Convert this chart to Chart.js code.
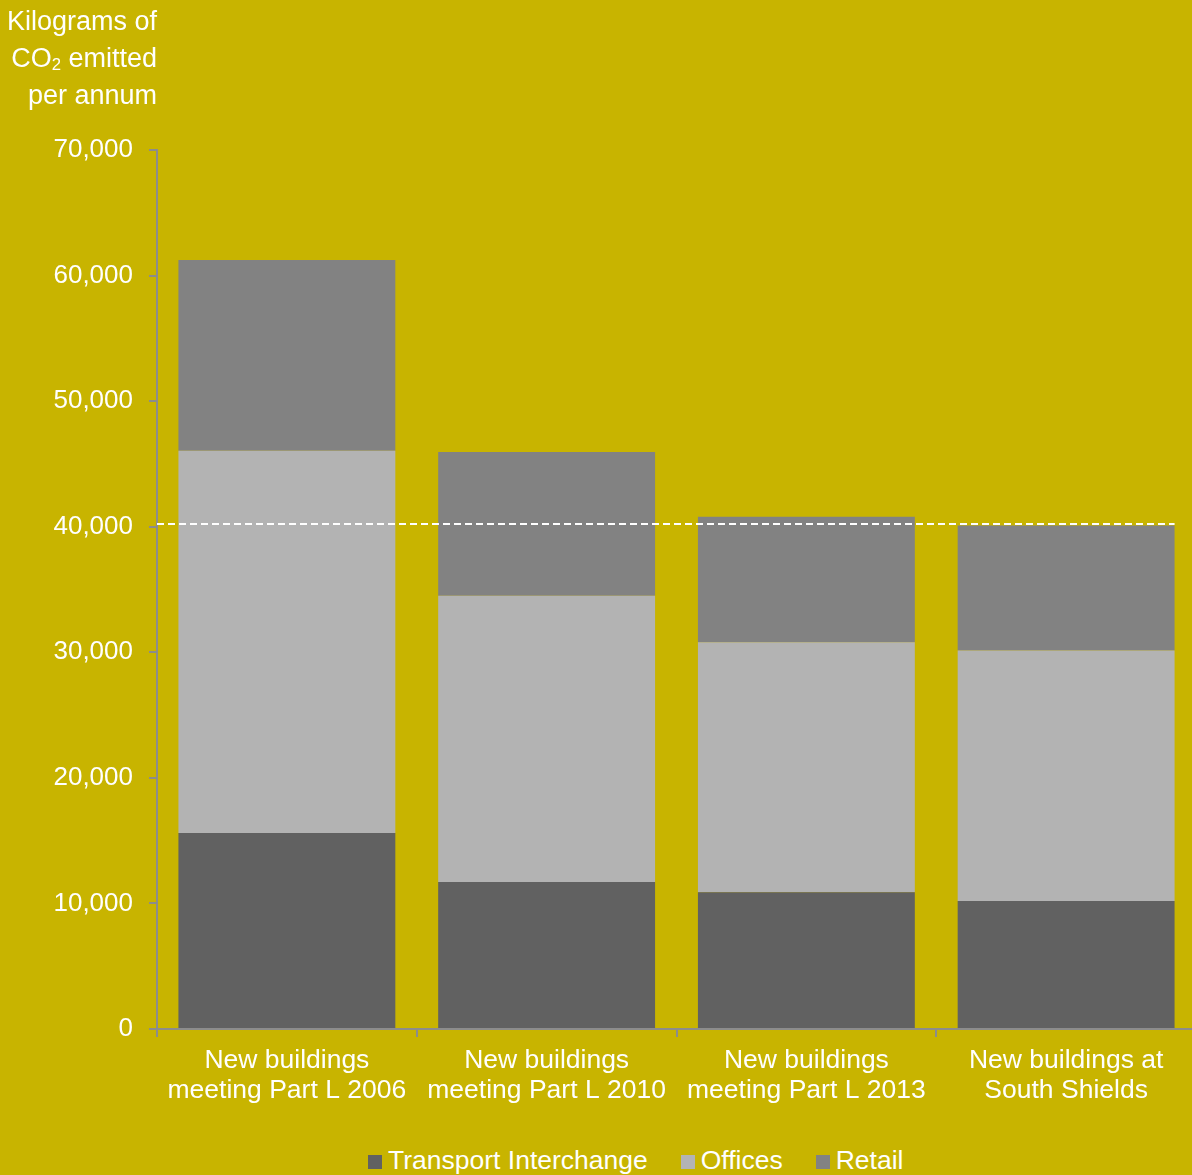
<!DOCTYPE html>
<html>
<head>
<meta charset="utf-8">
<script src="https://cdn.jsdelivr.net/npm/chart.js@4"></script>
<style>
  html, body { margin: 0; padding: 0; background: #c8b400; overflow: hidden; }
  #wrap { position: relative; width: 1192px; height: 1175px; overflow: hidden; background: #c8b400;
          font-family: "Liberation Sans", Arial, sans-serif; color: #ffffff; }
  #cv { position: absolute; left: 0; top: 0; }
  #ytitle { position: absolute; left: 0; top: 3px; width: 157px; text-align: right;
            font-size: 27px; line-height: 37px; }
  #ytitle sub { font-size: 0.62em; vertical-align: -0.2em; line-height: 0; }
  #legend { position: absolute; left: 368px; top: 1145px; height: 30px; display: flex;
            align-items: center; font-size: 26.5px; white-space: nowrap; }
  .item { display: flex; align-items: center; }
  .item + .item { margin-left: 33px; }
  .box { width: 14px; height: 14px; margin-right: 6px; margin-top: 3px; }
</style>
</head>
<body>
<div id="wrap">
  <canvas id="cv" width="1196" height="1130"></canvas>
  <div id="ytitle">Kilograms of<br>CO<sub>2</sub> emitted<br>per annum</div>
  <div id="legend"></div>
</div>
<script>
// ---- data ----
const categories = [
  ["New buildings", "meeting Part L 2006"],
  ["New buildings", "meeting Part L 2010"],
  ["New buildings", "meeting Part L 2013"],
  ["New buildings at", "South Shields"]
];
const seriesNames = ["Transport Interchange", "Offices", "Retail"];
const transportInterchange = [15600, 11700, 10900, 10200];
const offices = [30450, 22800, 19900, 19950];
const retail = [15200, 11450, 10000, 9950];
const referenceLine = 40200;
const yTicks = [0, 10000, 20000, 30000, 40000, 50000, 60000, 70000];

// ---- styling ----
const colors = ["#616161", "#b3b3b3", "#828282"];
const axisColor = "#8c8c8c";
const FONT = '"Liberation Sans", Arial, sans-serif';

const refLinePlugin = {
  id: 'refLine',
  afterDatasetsDraw(chart) {
    const y = Math.round(chart.scales.y.getPixelForValue(referenceLine));
    const meta = chart.getDatasetMeta(2);
    const last = meta.data[meta.data.length - 1];
    const xEnd = last.x + last.width / 2;
    const ctx = chart.ctx;
    ctx.save();
    ctx.strokeStyle = '#ffffff';
    ctx.lineWidth = 2;
    ctx.setLineDash([7, 4]);
    ctx.beginPath();
    ctx.moveTo(chart.chartArea.left, y);
    ctx.lineTo(xEnd, y);
    ctx.stroke();
    ctx.restore();
  }
};

const dataSeries = [transportInterchange, offices, retail];

new Chart(document.getElementById('cv'), {
  type: 'bar',
  data: {
    labels: categories,
    datasets: dataSeries.map((d, i) => ({
      label: seriesNames[i],
      data: d,
      backgroundColor: colors[i],
      borderWidth: 0,
      categoryPercentage: 1.0,
      barPercentage: 0.835
    }))
  },
  options: {
    responsive: false,
    animation: false,
    layout: { padding: { top: 150, left: 0, right: 0, bottom: 0 } },
    plugins: { legend: { display: false }, tooltip: { enabled: false } },
    scales: {
      x: {
        stacked: true,
        afterFit(scale) { scale.height = 101; },
        grid: { offset: true, drawOnChartArea: false, drawTicks: true, tickLength: 8,
                color: axisColor, lineWidth: 2 },
        border: { display: true, color: axisColor, width: 2 },
        ticks: { color: '#ffffff', padding: 9, maxRotation: 0, autoSkip: false,
                 font: { family: FONT, size: 26.5, lineHeight: '30px' } }
      },
      y: {
        stacked: true,
        min: 0, max: 70000,
        afterFit(scale) { scale.width = 157; },
        afterBuildTicks(scale) { scale.ticks = yTicks.map(v => ({ value: v })); },
        grid: { drawOnChartArea: false, drawTicks: true, tickLength: 8,
                color: axisColor, lineWidth: 2 },
        border: { display: true, color: axisColor, width: 2 },
        ticks: { color: '#ffffff', padding: 16,
                 font: { family: FONT, size: 26 },
                 callback: v => Number(v).toLocaleString('en-US') }
      }
    }
  },
  plugins: [refLinePlugin]
});

// legend
const lg = document.getElementById('legend');
seriesNames.forEach((n, i) => {
  const it = document.createElement('div');
  it.className = 'item';
  const b = document.createElement('span');
  b.className = 'box';
  b.style.background = colors[i];
  const t = document.createElement('span');
  t.textContent = n;
  it.appendChild(b); it.appendChild(t);
  lg.appendChild(it);
});
</script>
</body>
</html>
